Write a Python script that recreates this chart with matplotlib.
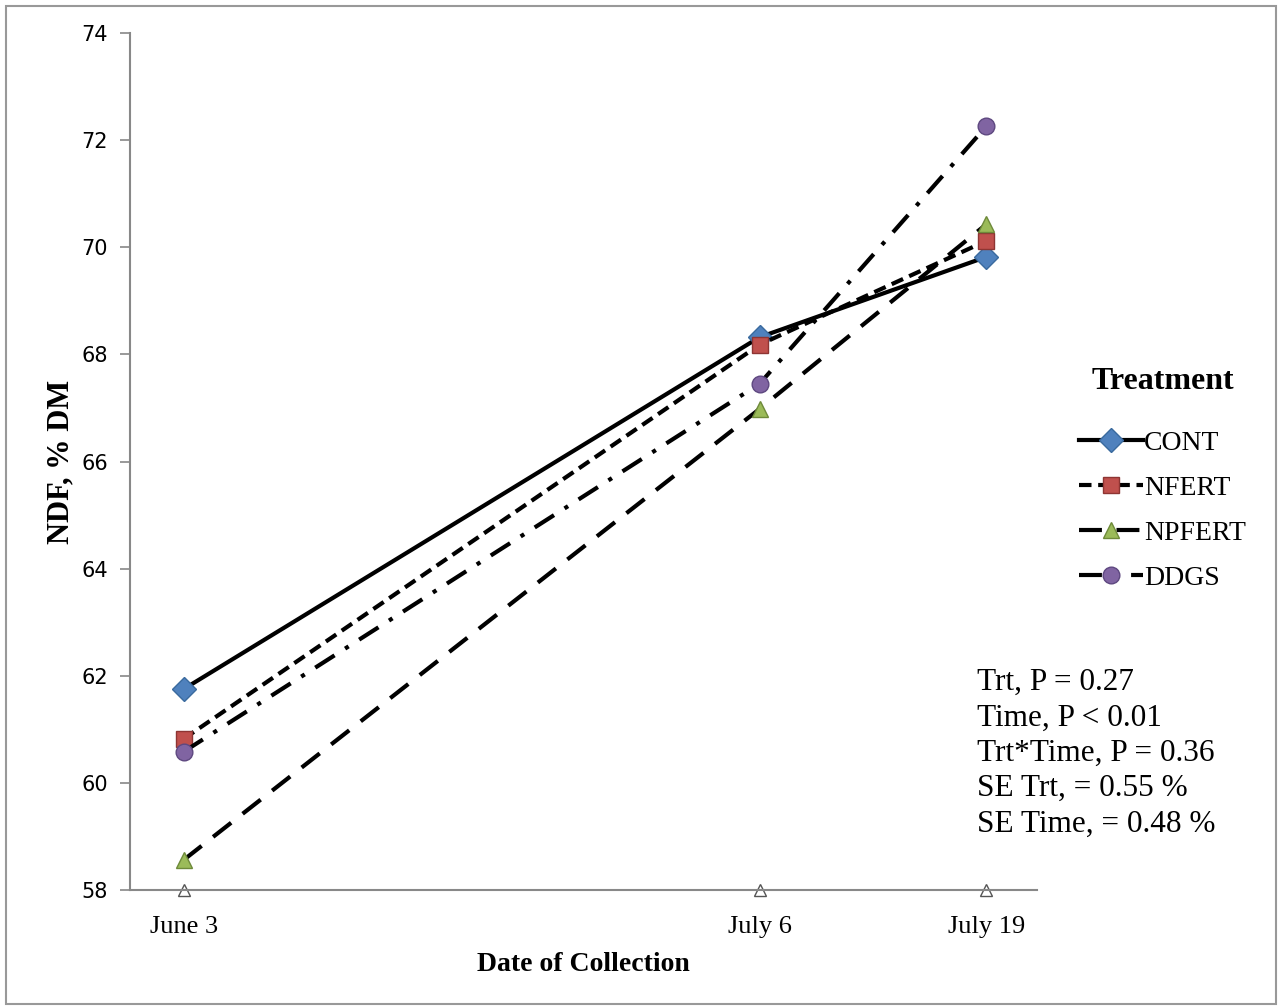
import numpy as np
import matplotlib.pyplot as plt
from matplotlib.patches import Rectangle

# days after June 3
days = [0, 33, 46]
date_labels = ['June 3', 'July 6', 'July 19']

cont = [61.75, 68.32, 69.82]
nfert = [60.82, 68.18, 70.12]
npfert = [58.56, 66.98, 70.43]
ddgs = [60.58, 67.45, 72.26]

stats_text = ['Trt, P = 0.27', 'Time, P < 0.01', 'Trt*Time, P = 0.36',
              'SE Trt, = 0.55 %', 'SE Time, = 0.48 %']

serif = ['Liberation Serif', 'DejaVu Serif']

fig = plt.figure(figsize=(12.82, 10.08), dpi=100)
ax = fig.add_axes([130/1282, 1 - 890/1008, (1037 - 130)/1282, (890 - 33)/1008])

series = [
    ('CONT', cont, '-', 'D', '#4F81BD', '#3A6A9E'),
    ('NFERT', nfert, (0, (3, 1.6)), 's', '#C0504D', '#8E3533'),
    ('NPFERT', npfert, (0, (5.5, 3.5)), '^', '#9BBB59', '#6E8A3A'),
    ('DDGS', ddgs, (0, (5.5, 3, 1, 3)), 'o', '#8064A2', '#5E4880'),
]
for name, vals, ls, mk, fc, ec in series:
    ax.plot(days, vals, linestyle=ls, color='black', lw=3,
            marker=mk, markersize=12, markerfacecolor=fc,
            markeredgecolor=ec, markeredgewidth=1, label=name, clip_on=False)

# small open triangles on the category axis
ax.plot(days, [58] * len(days), linestyle='none', marker='^', markersize=8,
        markerfacecolor='white', markeredgecolor='#555555', clip_on=False)

ax.set_ylim(58, 74)
ax.set_yticks(np.arange(58, 75, 2))
ax.set_xlim(-3.07, 48.9)
ax.set_xticks(days)
ax.set_xticklabels(date_labels, fontsize=19, family=serif)
ax.tick_params(axis='x', length=0, pad=19)
ax.tick_params(axis='y', length=7, width=1.2, color='#888888',
               labelsize=15, pad=9)

for side in ['top', 'right']:
    ax.spines[side].set_visible(False)
for side in ['left', 'bottom']:
    ax.spines[side].set_color('#888888')
    ax.spines[side].set_linewidth(1.5)

ax.set_xlabel('Date of Collection', fontsize=20, fontweight='bold',
              family=serif, labelpad=10)
ax.set_ylabel('NDF, % DM', fontsize=22, fontweight='bold',
              family=serif, labelpad=4)

leg = ax.legend(loc='upper left', bbox_to_anchor=(1054/1282, 1 - 342/1008),
                bbox_transform=fig.transFigure, frameon=False,
                prop={'family': serif, 'size': 20}, handlelength=2.3,
                handletextpad=0.05, labelspacing=0.7, title='Treatment',
                title_fontproperties={'family': serif, 'size': 23,
                                      'weight': 'bold'})
leg._legend_box.sep = 25

fig.text(977/1282, 1 - 668/1008, '\n'.join(stats_text), fontsize=22.5,
         family=serif, va='top', ha='left', linespacing=1.29)

fig.patches.append(Rectangle((6/1282, 4/1008), 1270/1282, 998/1008,
                             transform=fig.transFigure, fill=False,
                             edgecolor='#999999', lw=1.5))

fig.savefig('out.png', dpi=100)
